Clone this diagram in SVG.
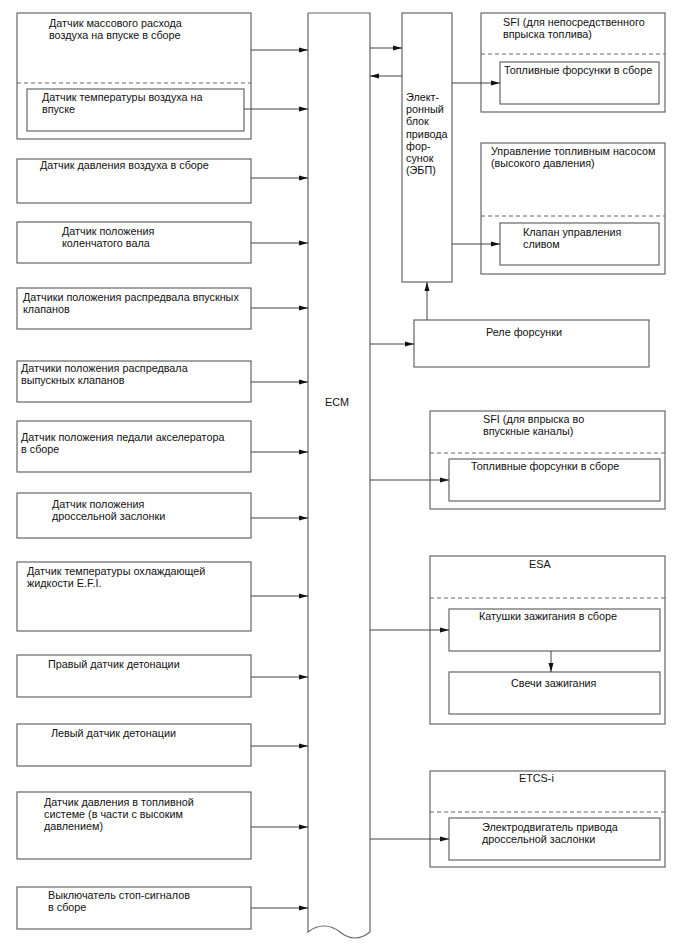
<svg xmlns="http://www.w3.org/2000/svg" width="688" height="949" viewBox="0 0 688 949">
<style>
.b{fill:#fff;stroke:#666;stroke-width:1.2}
.d{fill:none;stroke:#666;stroke-width:1;stroke-dasharray:4,3}
.c{fill:none;stroke:#444;stroke-width:1}
text{font-family:"Liberation Sans",Arial,sans-serif;font-size:10.8px;fill:#111}
</style>
<defs>
<marker id="a" markerWidth="10" markerHeight="6" refX="9" refY="3" orient="auto" markerUnits="userSpaceOnUse">
<path d="M0,0.5 L9,3 L0,5.5 Z" fill="#111"/>
</marker>
</defs>
<rect width="688" height="949" fill="#fff"/>

<g id="maf">
<rect class="b" x="17" y="13" width="234" height="126"/>
<line class="d" x1="17" y1="83" x2="251" y2="83"/>
<text x="49" y="27">Датчик массового расхода</text>
<text x="49" y="39">воздуха на впуске в сборе</text>
</g>
<g id="iat">
<rect class="b" x="27" y="89" width="217" height="42"/>
<text x="42" y="101">Датчик температуры воздуха на</text>
<text x="42" y="113">впуске</text>
</g>
<g id="map">
<rect class="b" x="17" y="159" width="234" height="44"/>
<text x="40" y="169">Датчик давления воздуха в сборе</text>
</g>
<g id="ckp">
<rect class="b" x="17" y="222" width="234" height="41"/>
<text x="62" y="235">Датчик положения</text>
<text x="62" y="247">коленчатого вала</text>
</g>
<g id="vvt-in">
<rect class="b" x="17" y="288" width="234" height="41"/>
<text x="23" y="301">Датчики положения распредвала впускных</text>
<text x="23" y="313">клапанов</text>
</g>
<g id="vvt-ex">
<rect class="b" x="17" y="361" width="234" height="41"/>
<text x="21" y="372">Датчики положения распредвала</text>
<text x="21" y="384">выпускных клапанов</text>
</g>
<g id="app">
<rect class="b" x="17" y="421" width="234" height="51"/>
<text x="21" y="441">Датчик положения педали акселератора</text>
<text x="21" y="453">в сборе</text>
</g>
<g id="tps">
<rect class="b" x="17" y="493" width="234" height="45"/>
<text x="52" y="508">Датчик положения</text>
<text x="52" y="520">дроссельной заслонки</text>
</g>
<g id="ect">
<rect class="b" x="17" y="562" width="234" height="69"/>
<text x="27" y="575">Датчик температуры охлаждающей</text>
<text x="27" y="587">жидкости E.F.I.</text>
</g>
<g id="ks-r">
<rect class="b" x="17" y="655" width="234" height="42"/>
<text x="48" y="668">Правый датчик детонации</text>
</g>
<g id="ks-l">
<rect class="b" x="17" y="724" width="234" height="42"/>
<text x="51" y="737">Левый датчик детонации</text>
</g>
<g id="fps">
<rect class="b" x="17" y="792" width="234" height="67"/>
<text x="44" y="806">Датчик давления в топливной</text>
<text x="44" y="818">системе (в части с высоким</text>
<text x="44" y="830">давлением)</text>
</g>
<g id="stop">
<rect class="b" x="17" y="887" width="234" height="42"/>
<text x="48" y="899">Выключатель стоп-сигналов</text>
<text x="48" y="911">в сборе</text>
</g>

<g id="ecm">
<path class="b" d="M308,932 L308,13 L370,13 L370,932 C360,940 350,940 340,932 C330,924 318,924 308,932 Z"/>
<text x="325" y="406">ECM</text>
</g>

<g id="edu">
<rect class="b" x="402" y="13" width="50" height="269"/>
<text x="406" y="101">Элект-</text>
<text x="406" y="113">ронный</text>
<text x="406" y="125">блок</text>
<text x="406" y="138">привода</text>
<text x="406" y="150">фор-</text>
<text x="406" y="162">сунок</text>
<text x="406" y="174">(ЭБП)</text>
</g>

<g id="sfi-di">
<rect class="b" x="481" y="13" width="184" height="99"/>
<line class="d" x1="481" y1="54" x2="665" y2="54"/>
<text x="503" y="26">SFI (для непосредственного</text>
<text x="503" y="38">впрыска топлива)</text>
</g>
<g id="inj-di">
<rect class="b" x="500" y="62" width="159" height="42"/>
<text x="504" y="74">Топливные форсунки в сборе</text>
</g>

<g id="pump">
<rect class="b" x="481" y="143" width="184" height="131"/>
<line class="d" x1="481" y1="216" x2="665" y2="216"/>
<text x="491" y="155">Управление топливным насосом</text>
<text x="491" y="167">(высокого давления)</text>
</g>
<g id="spill">
<rect class="b" x="500" y="223" width="159" height="42"/>
<text x="523" y="236">Клапан управления</text>
<text x="523" y="248">сливом</text>
</g>

<g id="relay">
<rect class="b" x="414" y="320" width="235" height="47"/>
<text x="486" y="336">Реле форсунки</text>
</g>

<g id="sfi-port">
<rect class="b" x="430" y="411" width="235" height="98"/>
<line class="d" x1="430" y1="453" x2="665" y2="453"/>
<text x="483" y="423">SFI (для впрыска во</text>
<text x="483" y="435">впускные каналы)</text>
</g>
<g id="inj-port">
<rect class="b" x="449" y="459" width="211" height="42"/>
<text x="471" y="470">Топливные форсунки в сборе</text>
</g>

<g id="esa">
<rect class="b" x="430" y="556" width="235" height="168"/>
<line class="d" x1="430" y1="598" x2="665" y2="598"/>
<text x="529" y="568">ESA</text>
</g>
<g id="coils">
<rect class="b" x="449" y="609" width="211" height="42"/>
<text x="479" y="620">Катушки зажигания в сборе</text>
</g>
<g id="plugs">
<rect class="b" x="449" y="672" width="211" height="42"/>
<text x="511" y="687">Свечи зажигания</text>
</g>

<g id="etcs">
<rect class="b" x="430" y="771" width="235" height="96"/>
<line class="d" x1="430" y1="812" x2="665" y2="812"/>
<text x="519" y="782">ETCS-i</text>
</g>
<g id="motor">
<rect class="b" x="449" y="818" width="211" height="42"/>
<text x="482" y="831">Электродвигатель привода</text>
<text x="482" y="843">дроссельной заслонки</text>
</g>

<g id="connectors">
<line class="c" x1="251" y1="50" x2="308" y2="50" marker-end="url(#a)"/>
<line class="c" x1="244" y1="109" x2="308" y2="109" marker-end="url(#a)"/>
<line class="c" x1="251" y1="178" x2="308" y2="178" marker-end="url(#a)"/>
<line class="c" x1="251" y1="243" x2="308" y2="243" marker-end="url(#a)"/>
<line class="c" x1="251" y1="308" x2="308" y2="308" marker-end="url(#a)"/>
<line class="c" x1="251" y1="382" x2="308" y2="382" marker-end="url(#a)"/>
<line class="c" x1="251" y1="452" x2="308" y2="452" marker-end="url(#a)"/>
<line class="c" x1="251" y1="518" x2="308" y2="518" marker-end="url(#a)"/>
<line class="c" x1="251" y1="596" x2="308" y2="596" marker-end="url(#a)"/>
<line class="c" x1="251" y1="677" x2="308" y2="677" marker-end="url(#a)"/>
<line class="c" x1="251" y1="746" x2="308" y2="746" marker-end="url(#a)"/>
<line class="c" x1="251" y1="827" x2="308" y2="827" marker-end="url(#a)"/>
<line class="c" x1="251" y1="908" x2="308" y2="908" marker-end="url(#a)"/>
<line class="c" x1="370" y1="48" x2="402" y2="48" marker-end="url(#a)"/>
<line class="c" x1="402" y1="76" x2="370" y2="76" marker-end="url(#a)"/>
<line class="c" x1="452" y1="83" x2="500" y2="83" marker-end="url(#a)"/>
<line class="c" x1="452" y1="244" x2="500" y2="244" marker-end="url(#a)"/>
<line class="c" x1="370" y1="344" x2="414" y2="344" marker-end="url(#a)"/>
<line class="c" x1="427" y1="320" x2="427" y2="282" marker-end="url(#a)"/>
<line class="c" x1="370" y1="480" x2="449" y2="480" marker-end="url(#a)"/>
<line class="c" x1="370" y1="630" x2="449" y2="630" marker-end="url(#a)"/>
<line class="c" x1="551" y1="651" x2="551" y2="672" marker-end="url(#a)"/>
<line class="c" x1="370" y1="839" x2="449" y2="839" marker-end="url(#a)"/>
</g>
</svg>
